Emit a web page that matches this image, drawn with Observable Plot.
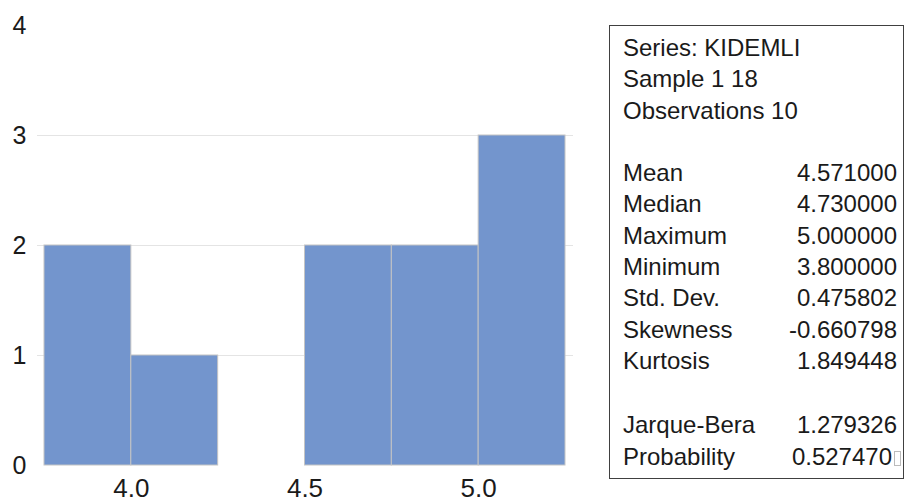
<!DOCTYPE html>
<html>
<head>
<meta charset="utf-8">
<script src="https://cdn.jsdelivr.net/npm/d3@7"></script>
<script src="https://cdn.jsdelivr.net/npm/@observablehq/plot@0.6"></script>
<style>
  html, body { margin: 0; padding: 0; background: #fff; }
  #wrap { position: relative; width: 907px; height: 504px; overflow: hidden; font-family: "Liberation Sans", Arial, sans-serif; }
  #stats { position: absolute; left: 609px; top: 25px; width: 295px; height: 454px; border: 1px solid #404040; box-sizing: border-box; font-size: 24px; color: #1a1a1a; }
  .row { position: absolute; left: 13px; right: 6px; height: 30px; line-height: 30px; }
  .row .v { position: absolute; right: 0; top: 0; }
  .tofu { display: inline-block; width: 5px; height: 13px; border: 1px solid #bbb; margin-left: 2px; vertical-align: -1px; }
</style>
</head>
<body>
<div id="wrap"></div>
<script>
const binStarts = [3.75, 4.0, 4.25, 4.5, 4.75, 5.0];
const binWidth = 0.25;
const counts = [2, 1, 0, 2, 2, 3];
const xTicks = [4.0, 4.5, 5.0];
const yTicks = [0, 1, 2, 3, 4];
const headerLines = ["Series: KIDEMLI", "Sample 1 18", "Observations 10"];
const statNames = ["Mean", "Median", "Maximum", "Minimum", "Std. Dev.", "Skewness", "Kurtosis"];
const statValues = ["4.571000", "4.730000", "5.000000", "3.800000", "0.475802", "-0.660798", "1.849448"];
const testNames = ["Jarque-Bera", "Probability"];
const testValues = ["1.279326", "0.527470"];

const bins = binStarts.map((s, i) => ({x1: s, x2: s + binWidth, count: counts[i]}));

const plot = Plot.plot({
  width: 907,
  height: 504,
  marginLeft: 44,
  marginRight: 342,
  marginTop: 25,
  marginBottom: 39,
  style: {fontFamily: "'Liberation Sans', Arial, sans-serif", color: "#1a1a1a", background: "transparent"},
  x: {domain: [3.75, 5.25]},
  y: {domain: [0, 4]},
  marks: [
    Plot.ruleY([1, 2, 3], {stroke: "#e4e4e4", strokeWidth: 1, insetLeft: -7, insetRight: -8}),
    Plot.rectY(bins.filter(d => d.count > 0), {x1: "x1", x2: "x2", y1: 0, y2: "count", fill: "#7395CD", stroke: "#c4c4c4", strokeWidth: 1}),
    Plot.axisY(yTicks, {tickSize: 0, tickPadding: 18, fontSize: 25, tickFormat: d3.format("d"), label: null}),
    Plot.axisX(xTicks, {tickSize: 0, tickPadding: 13, fontSize: 26, tickFormat: d3.format(".1f"), label: null})
  ]
});

const wrap = document.getElementById("wrap");
wrap.appendChild(plot);

const stats = document.createElement("div");
stats.id = "stats";
const rows = [];
headerLines.forEach((t, i) => rows.push({label: t, value: "", top: 7 + i * 31.3}));
statNames.forEach((t, i) => rows.push({label: t, value: statValues[i], top: 132 + i * 31.3}));
testNames.forEach((t, i) => rows.push({label: t, value: testValues[i], top: 384 + i * 31.6}));
rows.forEach((r) => {
  const div = document.createElement("div");
  div.className = "row";
  div.style.top = r.top + "px";
  const l = document.createElement("span");
  l.textContent = r.label;
  div.appendChild(l);
  if (r.value) {
    const v = document.createElement("span");
    v.className = "v";
    v.textContent = r.value;
    if (r.label === "Probability") {
      v.style.right = "-4px";
      const t = document.createElement("span");
      t.className = "tofu";
      v.appendChild(t);
    }
    div.appendChild(v);
  }
  stats.appendChild(div);
});
wrap.appendChild(stats);
</script>
</body>
</html>
